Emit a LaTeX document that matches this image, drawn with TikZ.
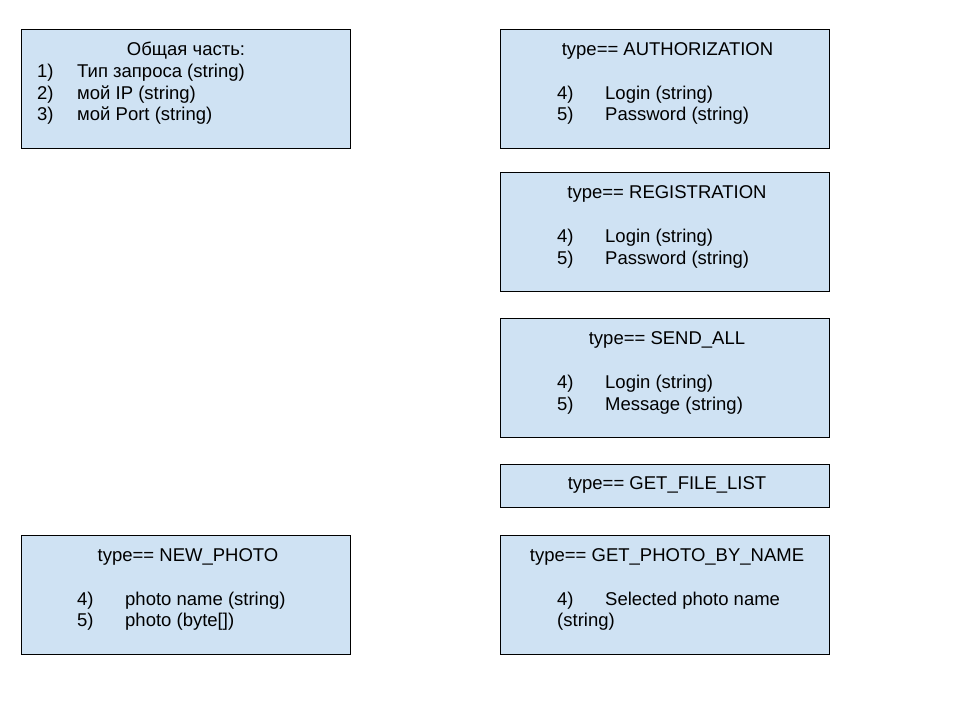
\documentclass[tikz,border=0pt]{standalone}
\usepackage{fontspec}
\setmainfont{Liberation Sans}
\definecolor{boxfill}{HTML}{CFE2F3}
\begin{document}
\begin{tikzpicture}[x=1pt,y=-1pt,
  box/.style={draw=black, line width=0.9pt, fill=boxfill, rectangle, inner sep=0pt, anchor=north west, minimum width=329pt},
  txt/.style={inner sep=0pt, font=\fontsize{18.5}{22}\selectfont},
  ttl/.style={txt, anchor=base},
  itm/.style={txt, anchor=base west}]
\useasboundingbox (0,0) rectangle (960,720);
\fill[white] (0,0) rectangle (960,720);
% boxes
\node[box, minimum height=119pt] (b1) at (20.5,28.5) {};
\node[box, minimum height=119pt] (b2) at (499.5,28.5) {};
\node[box, minimum height=119pt] (b3) at (499.5,171.5) {};
\node[box, minimum height=119pt] (b4) at (499.5,317.5) {};
\node[box, minimum height=43pt] (b5) at (499.5,463.5) {};
\node[box, minimum height=119pt] (b6) at (20.5,534.5) {};
\node[box, minimum height=119pt] (b7) at (499.5,534.5) {};
% box 1
\node[ttl] (b1t) at (186,55.7) {Общая часть:};
\node[itm] (b1n1) at (37,77.5) {1)};
\node[itm] (b1i1) at (77,77.5) {Тип запроса (string)};
\node[itm] (b1n2) at (37,99.2) {2)};
\node[itm] (b1i2) at (77,99.2) {мой IP (string)};
\node[itm] (b1n3) at (37,120.9) {3)};
\node[itm] (b1i3) at (77,120.9) {мой Port (string)};
% box 2
\node[ttl] (b2t) at (667.5,55.7) {type== AUTHORIZATION};
\node[itm] (b2n4) at (557,99.2) {4)};
\node[itm] (b2i4) at (605,99.2) {Login (string)};
\node[itm] (b2n5) at (557,120.9) {5)};
\node[itm] (b2i5) at (605,120.9) {Password (string)};
% box 3
\node[ttl] (b3t) at (667,198.7) {type== REGISTRATION};
\node[itm] (b3n4) at (557,242.5) {4)};
\node[itm] (b3i4) at (605,242.5) {Login (string)};
\node[itm] (b3n5) at (557,264.2) {5)};
\node[itm] (b3i5) at (605,264.2) {Password (string)};
% box 4
\node[ttl] (b4t) at (667,344.7) {type== SEND\_ALL};
\node[itm] (b4n4) at (557,388.5) {4)};
\node[itm] (b4i4) at (605,388.5) {Login (string)};
\node[itm] (b4n5) at (557,410.2) {5)};
\node[itm] (b4i5) at (605,410.2) {Message (string)};
% box 5
\node[ttl] (b5t) at (667,489.7) {type== GET\_FILE\_LIST};
% box 6
\node[ttl] (b6t) at (188,561.2) {type== NEW\_PHOTO};
\node[itm] (b6n4) at (77,605) {4)};
\node[itm] (b6i4) at (125,605) {photo name (string)};
\node[itm] (b6n5) at (77,626.7) {5)};
\node[itm] (b6i5) at (125,626.7) {photo (byte[])};
% box 7
\node[ttl] (b7t) at (667,561.2) {type== GET\_PHOTO\_BY\_NAME};
\node[itm] (b7n4) at (557,605) {4)};
\node[itm] (b7i4) at (605,605) {Selected photo name};
\node[itm] (b7i4b) at (557,626.7) {(string)};
\end{tikzpicture}
\end{document}
